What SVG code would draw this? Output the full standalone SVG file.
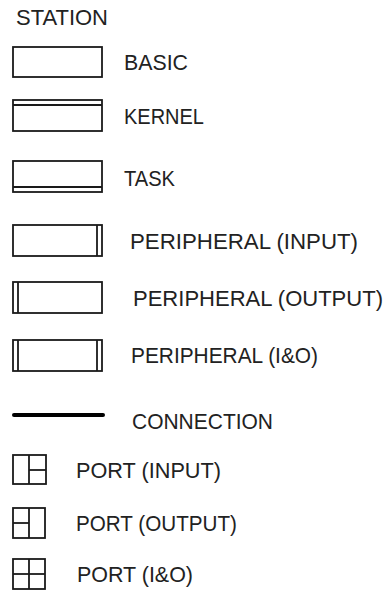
<svg xmlns="http://www.w3.org/2000/svg" width="386" height="590" viewBox="0 0 386 590">
  <style>
    .lbl { font-family: "Liberation Sans", Arial, sans-serif; font-size: 22px; fill: #222222; }
    .box { fill: #ffffff; stroke: #1a1a1a; stroke-width: 1.8; }
    .ln { stroke: #1a1a1a; stroke-width: 1.8; fill: none; }
    .conn { stroke: #000000; stroke-width: 4; stroke-linecap: round; }
  </style>
  <rect width="386" height="590" fill="#ffffff"/>

  <text class="lbl" x="16" y="25" textLength="92" lengthAdjust="spacingAndGlyphs">STATION</text>

  <!-- station kinds -->
  <g id="basic">
    <rect class="box" x="13" y="47" width="89" height="30"/>
    <text class="lbl" x="124" y="70" textLength="64" lengthAdjust="spacingAndGlyphs">BASIC</text>
  </g>

  <g id="kernel">
    <rect class="box" x="13" y="100" width="89" height="31"/>
    <line class="ln" x1="13" y1="105" x2="102" y2="105"/>
    <text class="lbl" x="124" y="124" textLength="80" lengthAdjust="spacingAndGlyphs">KERNEL</text>
  </g>

  <g id="task">
    <rect class="box" x="13" y="161" width="89" height="31"/>
    <line class="ln" x1="13" y1="187" x2="102" y2="187"/>
    <text class="lbl" x="124" y="186" textLength="51" lengthAdjust="spacingAndGlyphs">TASK</text>
  </g>

  <g id="peripheral-input">
    <rect class="box" x="13" y="225" width="89" height="31"/>
    <line class="ln" x1="97" y1="225" x2="97" y2="256"/>
    <text class="lbl" x="130" y="249" textLength="228" lengthAdjust="spacingAndGlyphs">PERIPHERAL (INPUT)</text>
  </g>

  <g id="peripheral-output">
    <rect class="box" x="13" y="282" width="89" height="31"/>
    <line class="ln" x1="18" y1="282" x2="18" y2="313"/>
    <text class="lbl" x="133" y="306" textLength="250" lengthAdjust="spacingAndGlyphs">PERIPHERAL (OUTPUT)</text>
  </g>

  <g id="peripheral-io">
    <rect class="box" x="13" y="340" width="89" height="31"/>
    <line class="ln" x1="18" y1="340" x2="18" y2="371"/>
    <line class="ln" x1="97" y1="340" x2="97" y2="371"/>
    <text class="lbl" x="131" y="363" textLength="187" lengthAdjust="spacingAndGlyphs">PERIPHERAL (I&amp;O)</text>
  </g>

  <!-- connection sample -->
  <g id="connectors">
    <line class="conn" x1="14" y1="415" x2="103" y2="415"/>
  </g>
  <g id="connection">
    <text class="lbl" x="132" y="429" textLength="141" lengthAdjust="spacingAndGlyphs">CONNECTION</text>
  </g>

  <!-- ports -->
  <g id="port-input">
    <rect class="box" x="13" y="455" width="33" height="29"/>
    <line class="ln" x1="29" y1="455" x2="29" y2="484"/>
    <line class="ln" x1="29" y1="470" x2="46" y2="470"/>
    <text class="lbl" x="76" y="478" textLength="145" lengthAdjust="spacingAndGlyphs">PORT (INPUT)</text>
  </g>

  <g id="port-output">
    <rect class="box" x="13" y="508" width="32" height="30"/>
    <line class="ln" x1="29" y1="508" x2="29" y2="538"/>
    <line class="ln" x1="13" y1="523" x2="29" y2="523"/>
    <text class="lbl" x="76" y="531" textLength="161" lengthAdjust="spacingAndGlyphs">PORT (OUTPUT)</text>
  </g>

  <g id="port-io">
    <rect class="box" x="13" y="559" width="32" height="30"/>
    <line class="ln" x1="29" y1="559" x2="29" y2="589"/>
    <line class="ln" x1="13" y1="574" x2="45" y2="574"/>
    <text class="lbl" x="77" y="582" textLength="116" lengthAdjust="spacingAndGlyphs">PORT (I&amp;O)</text>
  </g>
</svg>
